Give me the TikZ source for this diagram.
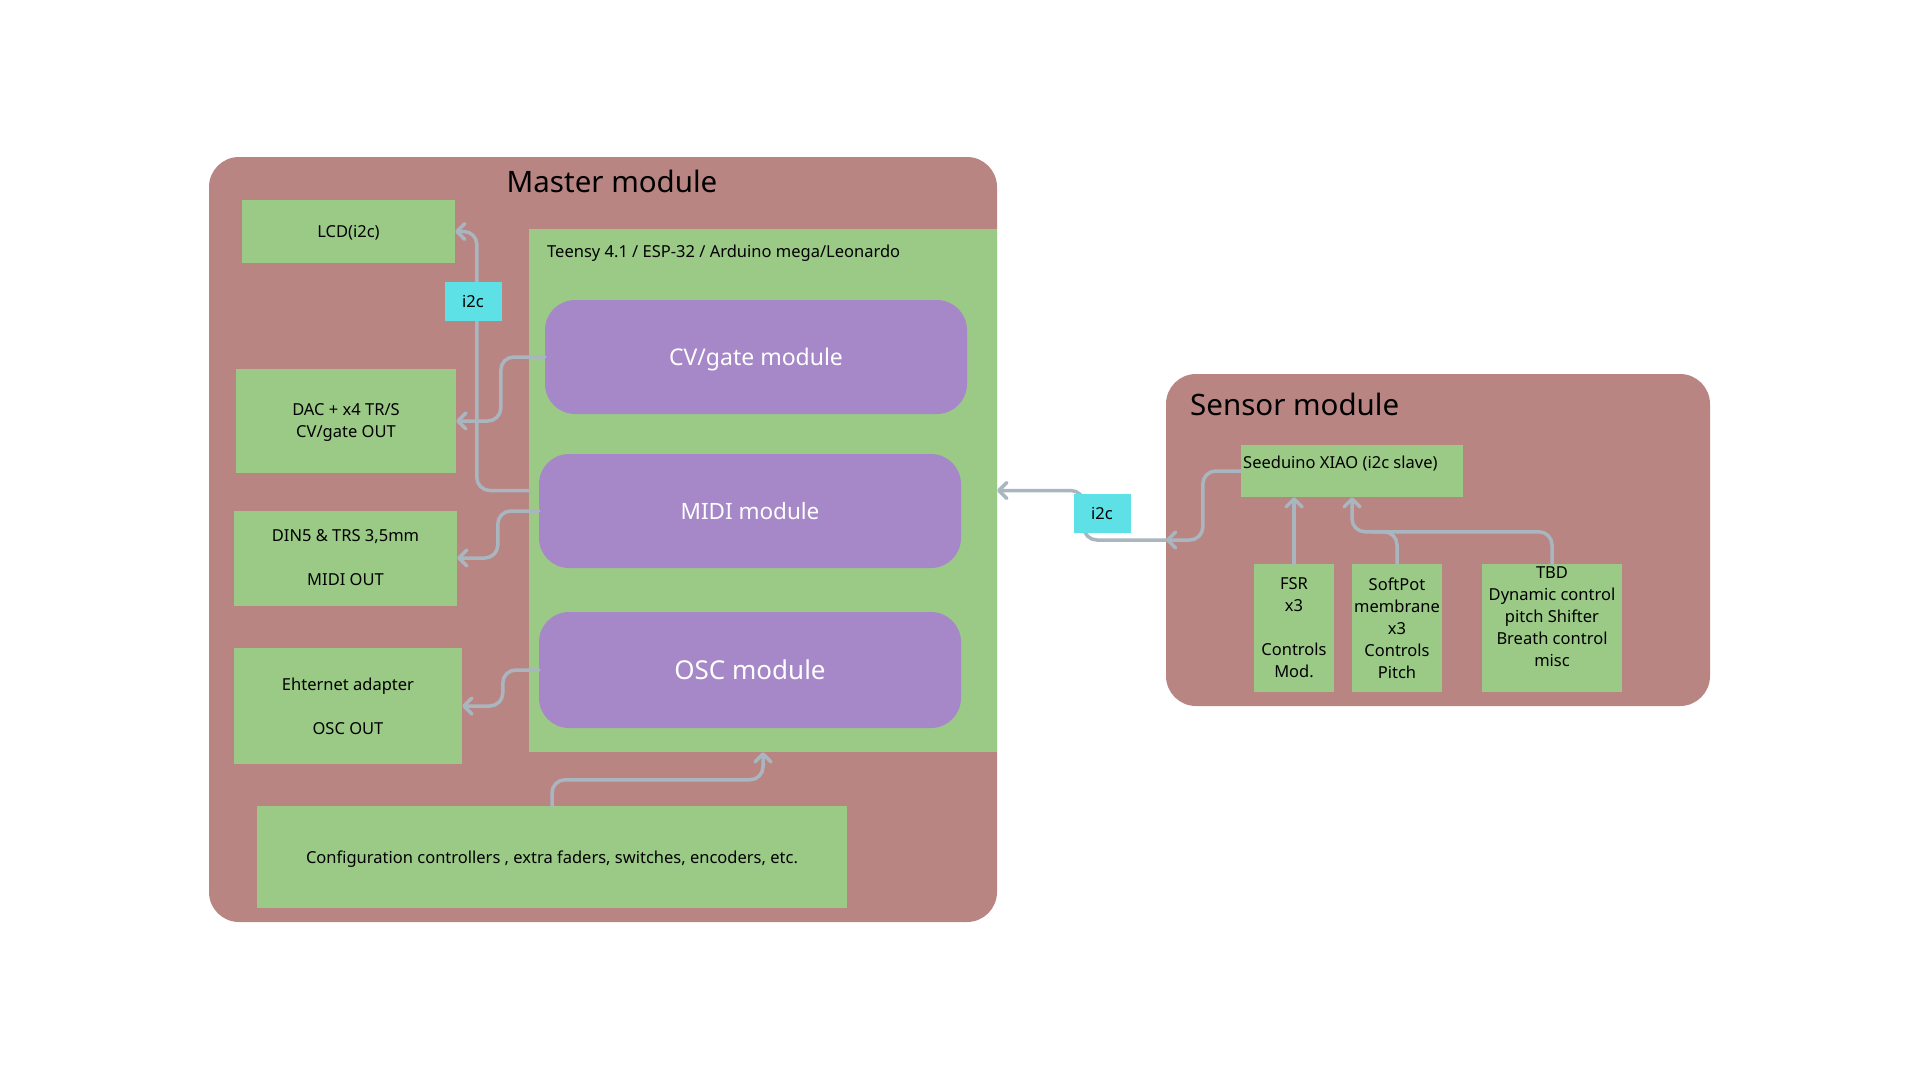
\documentclass[tikz,border=0pt]{standalone}
\usepackage{fontspec}
\setmainfont{Noto Sans}
\usetikzlibrary{arrows.meta}
\definecolor{rose}{HTML}{B88582}
\definecolor{grn}{HTML}{9BCA87}
\definecolor{purp}{HTML}{A688C8}
\definecolor{cyanl}{HTML}{5DE0E6}
\definecolor{wire}{HTML}{A9B6BF}
\tikzset{
  panel/.style={fill=rose, rounded corners=30pt, inner sep=0pt},
  gbox/.style={fill=grn, inner sep=0pt, align=center, text=black, text depth=0pt, font=\fontsize{16.5}{22}\selectfont},
  modbox/.style={fill=purp, rounded corners=30pt, inner sep=0pt, text=white, text depth=0pt},
  tag/.style={fill=cyanl, inner sep=0pt, minimum width=57pt, minimum height=39pt, font=\fontsize{16.5}{20}\selectfont},
  conn/.style={draw=wire, line width=3.5pt, rounded corners=13pt, line cap=round,
    -{Straight Barb[length=8pt,width=16pt,line width=3.5pt,round]}},
  plainconn/.style={draw=wire, line width=3.5pt, rounded corners=13pt, line cap=round},
  title/.style={font=\fontsize{29.5}{34}\selectfont, text=black, inner sep=0pt},
  plaintext/.style={inner sep=0pt, font=\fontsize{16.5}{20}\selectfont}
}
\begin{document}
\begin{tikzpicture}[x=1pt,y=-1pt]
\useasboundingbox[fill=white] (0,0) rectangle (1920,1080);

% Master module
\node[panel, minimum width=788pt, minimum height=765pt] (master) at (603,539.5) {};
\node[title, anchor=base] (mtitle) at (612,192) {Master module};

% Teensy board
\node[gbox, minimum width=468pt, minimum height=523pt] (teensy) at (763,490.5) {};
\node[plaintext, anchor=base west] (tlabel) at (547,257) {Teensy 4.1 / ESP-32 / Arduino mega/Leonardo};

% Modules
\node[modbox, minimum width=422pt, minimum height=114pt, font=\fontsize{23}{27}\selectfont, text height=16.5pt] (cv) at (756,357) {CV/gate module};
\node[modbox, minimum width=422pt, minimum height=114pt, font=\fontsize{22.5}{27}\selectfont, text height=16pt] (midi) at (750,511) {MIDI module};
\node[modbox, minimum width=422pt, minimum height=116pt, font=\fontsize{26}{30}\selectfont, text height=18.5pt] (osc) at (750,670) {OSC module};

% Left boxes
\node[gbox, minimum width=213pt, minimum height=63pt] (lcd) at (348.5,231.5) {LCD(i2c)};
\node[gbox, minimum width=220pt, minimum height=104pt] (dac) at (346,421) {DAC + x4 TR/S\\CV/gate OUT};
\node[gbox, minimum width=223pt, minimum height=95pt] (din) at (345.5,558) {DIN5 \& TRS 3,5mm\\[22pt]MIDI OUT};
\node[gbox, minimum width=228pt, minimum height=116pt] (eth) at (348,706) {Ehternet adapter\\[22pt]OSC OUT};
\node[gbox, minimum width=590pt, minimum height=102pt] (cfg) at (552,857) {Configuration controllers , extra faders, switches, encoders, etc.};

% Sensor module
\node[panel, minimum width=544pt, minimum height=332pt] (sensor) at (1438,540) {};
\node[title, anchor=base west] (stitle) at (1190,415) {Sensor module};
\node[gbox, minimum width=222pt, minimum height=52pt] (seeed) at (1352,471) {};
\node[plaintext, anchor=base west] (slabel) at (1243,468) {Seeduino XIAO (i2c slave)};
\node[gbox, minimum width=80pt, minimum height=128pt] (fsr) at (1294,628) {FSR\\x3\\[22pt]Controls\\Mod.};
\node[gbox, minimum width=90pt, minimum height=128pt] (soft) at (1397,628) {SoftPot\\membrane\\x3\\Controls\\Pitch};
\node[gbox, minimum width=140pt, minimum height=128pt] (tbd) at (1552,628) {};
\node[gbox, fill=none] (tbdtext) at (1552,617) {TBD\\Dynamic control\\pitch Shifter\\Breath control\\misc};

% Connectors (master)
\draw[conn] (teensy.west) -- ++(-52,0) |- (lcd.east);
\draw[conn] (cv.west) -- ++(-44,0) |- (dac.east);
\draw[conn] (midi.west) -- ++(-41,0) |- (din.east);
\draw[conn] (osc.west) -- ++(-36,0) |- (eth.east);
\draw[conn] (cfg.north) -- ++(0,-26) -| (teensy.south);

% Connectors (sensor)
\draw[conn] (seeed.west) -- ++(-38,0) |- (sensor.west);
\draw[conn] (sensor.west) -- ++(-82,0) |- (teensy.east);
\draw[conn] (fsr.north) -- (fsr.north |- seeed.south);
\draw[conn] (tbd.north) -- ++(0,-32) -| (seeed.south);
\draw[plainconn] (soft.north) |- ++(-24,-32);

% i2c tags
\node[tag] (i2ca) at (473,301) {i2c};
\node[tag] (i2cb) at (1102,513.5) {i2c};
\end{tikzpicture}
\end{document}
